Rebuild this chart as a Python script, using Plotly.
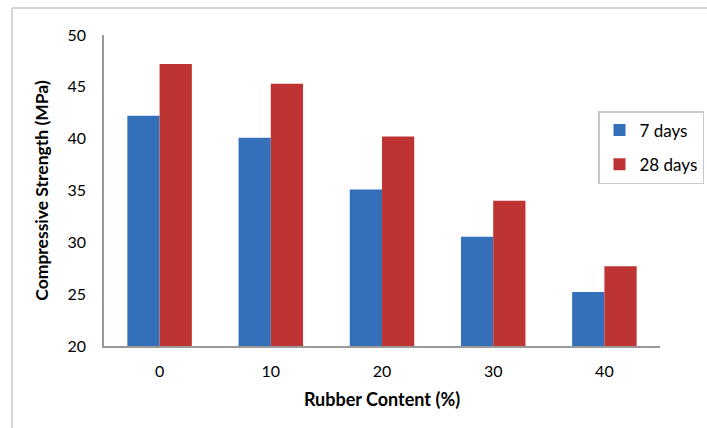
import plotly.graph_objects as go

categories = ["0", "10", "20", "30", "40"]
days7 = [42.2, 40.1, 35.1, 30.55, 25.2]
days28 = [47.2, 45.3, 40.2, 34.0, 27.7]
series_names = ["7 days", "28 days"]

W, H = 707, 428
L, R, T, B = 104, 47, 35, 82
pw, ph = W - L - R, H - T - B

def px2x(px):
    return (px - L) / pw

def py2y(py):
    return (H - B - py) / ph

fig = go.Figure()
fig.add_trace(go.Bar(x=categories, y=days7, name=series_names[0], legendgroup="a",
                     marker=dict(color="#3470b9", line=dict(width=0))))
fig.add_trace(go.Bar(x=categories, y=days28, name=series_names[1], legendgroup="b",
                     marker=dict(color="#bd3432", line=dict(width=0))))

font = "Lato, 'Open Sans', sans-serif"
fig.update_layout(
    width=W, height=H,
    margin=dict(l=L, r=R, t=T, b=B, autoexpand=False),
    paper_bgcolor="white", plot_bgcolor="white",
    barmode="group", bargap=0.42, bargroupgap=0,
    font=dict(family=font, size=16, color="black"),
    showlegend=True,
    legend=dict(xref="container", yref="container", x=704 / W, y=1 - 111 / H,
                xanchor="right", yanchor="top",
                bordercolor="#c8c8c8", borderwidth=1.5, bgcolor="white",
                font=dict(size=17), tracegroupgap=9, itemwidth=30,
                traceorder="grouped"),
    xaxis=dict(showline=True, linecolor="#999999", linewidth=1.5,
               ticks="", showgrid=False, ticklabelstandoff=10,
               title=dict(text="<b>Rubber Content (%)</b>", font=dict(size=18), standoff=14),
               tickfont=dict(size=16)),
    yaxis=dict(range=[20, 50], dtick=5, showline=True, linecolor="#999999",
               linewidth=1.5, ticks="", showgrid=False, zeroline=False,
               ticklabelstandoff=13,
               title=dict(text="<b>Compressive Strength (MPa)</b>", font=dict(size=17.5), standoff=14),
               tickfont=dict(size=16)),
    shapes=[
        dict(type="line", xref="paper", yref="paper", x0=px2x(12), x1=px2x(707),
             y0=py2y(8), y1=py2y(8), line=dict(color="#c8c8c8", width=1.5)),
        dict(type="line", xref="paper", yref="paper", x0=px2x(12), x1=px2x(12),
             y0=py2y(8), y1=py2y(428), line=dict(color="#c8c8c8", width=1.5)),
    ],
)

fig.write_html("out.html", config={"displayModeBar": False},
               post_script="document.body.style.margin='0';document.body.style.overflow='hidden';")
